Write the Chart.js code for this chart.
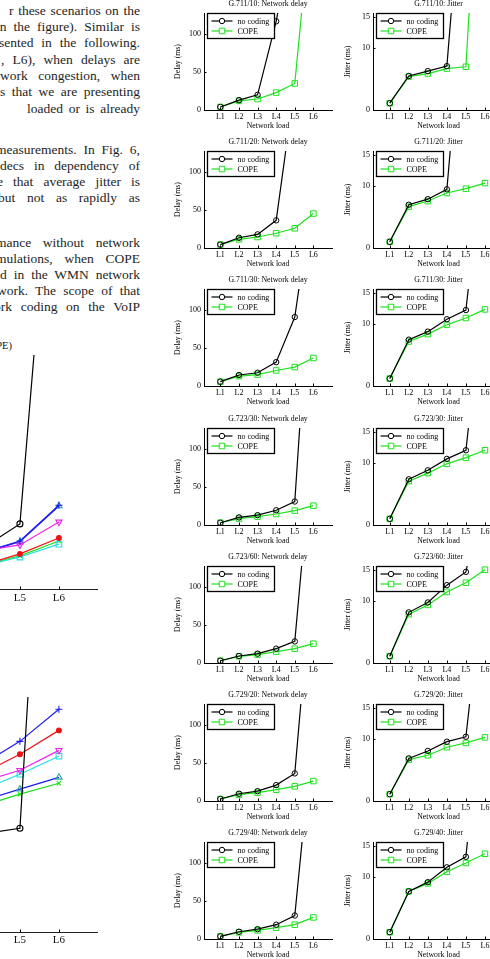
<!DOCTYPE html>
<html><head><meta charset="utf-8">
<script src="https://cdn.jsdelivr.net/npm/chart.js@4.4.1/dist/chart.umd.min.js"></script>
<style>
html,body{margin:0;padding:0;background:#fff;overflow:hidden;}
body{width:490px;height:959px;position:relative;}
.t{position:absolute;font-family:"Liberation Serif","Times New Roman",serif;font-size:13.5px;line-height:16px;height:16px;color:#1e1e1e;text-align:justify;text-align-last:justify;}
.ct{position:absolute;font-family:"Liberation Serif","Times New Roman",serif;font-size:10.5px;line-height:12px;color:#111;white-space:nowrap;text-align:right;}
canvas{position:absolute;}
</style>
</head>
<body>
<div class="t" style="top:3px;left:9px;width:131px">r these scenarios on the</div>
<div class="t" style="top:19px;left:-4px;width:144px">in the figure). Similar is</div>
<div class="t" style="top:35px;left:-1px;width:141px">sented in the following.</div>
<div class="t" style="top:52px;left:1px;width:139px">, L6), when delays are</div>
<div class="t" style="top:68px;left:0px;width:140px">work congestion, when</div>
<div class="t" style="top:84px;left:0px;width:140px">s that we are presenting</div>
<div class="t" style="top:101px;left:27px;width:113px">loaded or is already</div>
<div class="t" style="top:142px;left:-4px;width:144px">measurements. In Fig. 6,</div>
<div class="t" style="top:158px;left:0px;width:140px">decs in dependency of</div>
<div class="t" style="top:174px;left:-3px;width:143px">e that average jitter is</div>
<div class="t" style="top:190px;left:-2px;width:142px">but not as rapidly as</div>
<div class="t" style="top:235px;left:-4px;width:144px">mance without network</div>
<div class="t" style="top:251px;left:-4px;width:144px">mulations, when COPE</div>
<div class="t" style="top:267px;left:0px;width:140px">d in the WMN network</div>
<div class="t" style="top:283px;left:-3px;width:143px">work. The scope of that</div>
<div class="t" style="top:299px;left:-6px;width:146px">ork coding on the VoIP</div>
<div class="ct" style="top:340px;right:478px">Network delay (no coding and COPE)</div>
<script>
const FONT = '"Liberation Serif","Times New Roman",serif';
const GREEN = '#1de21d';

// ---------- categories / labels ----------
const categories = ['L1', 'L2', 'L3', 'L4', 'L5', 'L6'];
const seriesNames = ['no coding', 'COPE'];
const codecNames = ['G.711/10', 'G.711/20', 'G.711/30', 'G.723/30', 'G.723/60', 'G.729/20', 'G.729/40'];
const delayTickValues = [0, 50, 100];
const jitterTickValues = [0, 10, 15];

// ---------- network delay (ms) ----------
const delay711_10_nc   = [4, 13, 20, 117, 250, null];
const delay711_10_cope = [4, 12, 14.5, 23, 35, 290];
const delay711_20_nc   = [4.5, 13.5, 18, 36.5, 215, null];
const delay711_20_cope = [4.5, 11.5, 14.5, 19.5, 26, 45.5];
const delay711_30_nc   = [5.7, 14.5, 17.5, 31.5, 91, 260];
const delay711_30_cope = [5.7, 13, 15, 20.5, 25, 37];
const delay723_30_nc   = [3, 10, 13, 19.5, 31, 400];
const delay723_30_cope = [3, 8.5, 11, 14.5, 19, 25.5];
const delay723_60_nc   = [3, 9.2, 12.3, 18.9, 28.5, 300];
const delay723_60_cope = [3, 8.8, 11, 15, 18.9, 25.5];
const delay729_20_nc   = [2.6, 9.6, 13, 21, 36.4, 320];
const delay729_20_cope = [2.6, 8.3, 11, 14.9, 19.3, 26.3];
const delay729_40_nc   = [3.5, 9.6, 13, 18.9, 31, 280];
const delay729_40_cope = [3.5, 8.8, 11.4, 14.9, 18.9, 28.5];

// ---------- jitter (ms) ----------
const jitter711_10_nc   = [1.1, 5.5, 6.3, 7.1, 45, null];
const jitter711_10_cope = [1.1, 5.4, 5.9, 6.7, 7.0, 60];
const jitter711_20_nc   = [1.0, 7.0, 7.9, 9.5, 45, null];
const jitter711_20_cope = [1.0, 6.7, 7.6, 8.9, 9.6, 10.5];
const jitter711_30_nc   = [1.2, 7.5, 8.8, 10.8, 12.3, 40];
const jitter711_30_cope = [1.2, 7.2, 8.4, 9.9, 11.0, 12.4];
const jitter723_30_nc   = [1.0, 7.4, 8.85, 10.7, 12.1, 40];
const jitter723_30_cope = [1.0, 7.1, 8.4, 9.9, 10.9, 12.1];
const jitter723_60_nc   = [1.1, 8.2, 9.8, 12.6, 14.75, 30];
const jitter723_60_cope = [1.1, 7.9, 9.4, 11.5, 13.0, 15.1];
const jitter729_20_nc   = [1.1, 6.9, 8.1, 9.6, 10.4, 38];
const jitter729_20_cope = [1.1, 6.7, 7.4, 8.7, 9.4, 10.3];
const jitter729_40_nc   = [1.1, 7.7, 9.2, 11.6, 13.3, 45];
const jitter729_40_cope = [1.1, 7.7, 9.0, 10.9, 12.3, 13.8];

// ---------- left (partially visible) summary charts ----------
const leftSeriesNames = ['no coding', 'G.711/10', 'G.711/20', 'G.711/30', 'G.723/30', 'G.723/60', 'G.729/20'];
const topNoCoding = [2.5, 4.5, 7.0, 10.2, 16.7, 137];
const topSeriesB  = [2.0, 3.9, 6.3, 9.3, 12.3, 21.5];
const topSeriesR  = [1.5, 2.8, 4.3, 6.0, 9.0, 13.1];
const topSeriesM  = [2.0, 3.8, 6.2, 9.7, 11.3, 17.2];
const topSeriesC  = [1.4, 2.6, 4.1, 5.8, 8.2, 11.5];
const topSeriesT  = [2.0, 3.7, 6.0, 9.1, 12.1, 21.3];
const topSeriesG  = [1.4, 2.7, 4.2, 5.9, 8.5, 12.3];
const botNoCoding = [12, 18, 22, 25.0, 26.5, 190];
const botSeriesB  = [20, 28, 36, 42.6, 48.7, 56.9];
const botSeriesR  = [19, 27, 34, 40.3, 45.4, 51.5];
const botSeriesM  = [18, 26, 33, 38.3, 41.3, 46.4];
const botSeriesC  = [17, 25, 31, 36.2, 40.3, 44.9];
const botSeriesT  = [16, 23, 29, 33.4, 36.5, 39.5];
const botSeriesG  = [15, 22, 28, 32.1, 35.2, 38.0];

const delayRows = [
  [delay711_10_nc, delay711_10_cope], [delay711_20_nc, delay711_20_cope], [delay711_30_nc, delay711_30_cope],
  [delay723_30_nc, delay723_30_cope], [delay723_60_nc, delay723_60_cope], [delay729_20_nc, delay729_20_cope],
  [delay729_40_nc, delay729_40_cope]];
const jitterRows = [
  [jitter711_10_nc, jitter711_10_cope], [jitter711_20_nc, jitter711_20_cope], [jitter711_30_nc, jitter711_30_cope],
  [jitter723_30_nc, jitter723_30_cope], [jitter723_60_nc, jitter723_60_cope], [jitter729_20_nc, jitter729_20_cope],
  [jitter729_40_nc, jitter729_40_cope]];

function toXY(arr) { return categories.map((c, i) => ({x: i + 1, y: arr[i]})); }

// Chart.js keeps a 5px right inset in this layout; canvases are widened by it.
const RIGHT_INSET = 5;
function addCanvas(left, top, w, h) {
  const c = document.createElement('canvas');
  c.width = w; c.height = h;
  c.style.left = left + 'px'; c.style.top = top + 'px';
  c.style.width = w + 'px'; c.style.height = h + 'px';
  document.body.appendChild(c);
  return c;
}

const inwardTicks = {
  id: 'inwardTicks',
  afterDraw(chart) {
    const ctx = chart.ctx, xs = chart.scales.x, ys = chart.scales.y;
    ctx.save(); ctx.strokeStyle = '#000'; ctx.lineWidth = 1;
    xs.ticks.forEach(t => {
      const px = Math.round(xs.getPixelForValue(t.value)) + 0.5;
      ctx.beginPath(); ctx.moveTo(px, xs.top); ctx.lineTo(px, xs.top - 2.5); ctx.stroke();
    });
    if (ys.options.ticks.display) ys.ticks.forEach(t => {
      const py = Math.round(ys.getPixelForValue(t.value)) + 0.5;
      ctx.beginPath(); ctx.moveTo(ys.right, py); ctx.lineTo(ys.right + 2.5, py); ctx.stroke();
    });
    ctx.restore();
  }
};

const boxLegend = {
  id: 'boxLegend',
  afterDraw(chart) {
    const ctx = chart.ctx, ca = chart.chartArea;
    const x0 = Math.round(ca.left) + 3.5, y0 = Math.round(ca.top) + 0.5;
    ctx.save();
    ctx.font = '8px ' + FONT;
    const tw = Math.max(...chart.data.datasets.map(d => ctx.measureText(d.label).width));
    const w = Math.round(31 + tw + 4), h = 25;
    ctx.fillStyle = '#fff'; ctx.fillRect(x0, y0, w, h);
    ctx.strokeStyle = '#000'; ctx.lineWidth = 1.3; ctx.strokeRect(x0, y0, w, h);
    chart.data.datasets.forEach((d, i) => {
      const yy = y0 + 7.5 + i * 10;
      ctx.strokeStyle = d.borderColor; ctx.lineWidth = d.borderWidth;
      ctx.beginPath(); ctx.moveTo(x0 + 4, yy); ctx.lineTo(x0 + 25, yy); ctx.stroke();
      ctx.fillStyle = '#fff'; ctx.strokeStyle = d.pointBorderColor; ctx.lineWidth = 1;
      Chart.helpers.drawPoint(ctx, {pointStyle: d.pointStyle, radius: d.pointRadius, rotation: 0, borderWidth: 1}, x0 + 14.5, yy);
      ctx.fillStyle = '#000'; ctx.textBaseline = 'middle'; ctx.textAlign = 'left';
      ctx.fillText(d.label, x0 + 30, yy + 0.5);
    });
    ctx.restore();
  }
};

function smallChart(canvas, title, yTitle, tickVals, yMax, yAxisW, nc, cope) {
  const f = s => ({family: FONT, size: s, weight: 'normal', lineHeight: 1.2});
  return new Chart(canvas, {
    type: 'line',
    data: {datasets: [
      {label: seriesNames[0], data: toXY(nc), borderColor: '#000', borderWidth: 1.2, pointStyle: 'circle', pointRadius: 2.7,
       pointBorderColor: '#000', pointBackgroundColor: 'rgba(255,255,255,0)', pointBorderWidth: 1, tension: 0},
      {label: seriesNames[1], data: toXY(cope), borderColor: GREEN, borderWidth: 1.2, pointStyle: 'rect', pointRadius: 3.9,
       pointBorderColor: GREEN, pointBackgroundColor: 'rgba(255,255,255,0)', pointBorderWidth: 1, tension: 0}
    ]},
    options: {
      responsive: false, animation: false, devicePixelRatio: 1,
      layout: {padding: 0},
      plugins: {
        legend: {display: false}, tooltip: {enabled: false},
        title: {display: true, text: title, fullSize: false, color: '#000', font: f(7.8), padding: {top: 0, bottom: 4.64}}
      },
      scales: {
        x: {type: 'linear', min: 0.12, max: 7,
            afterBuildTicks: s => { s.ticks = categories.map((c, i) => ({value: i + 1})); },
            afterFit: s => { s.height = 21; },
            ticks: {callback: v => categories[Math.round(v) - 1], font: f(8), color: '#000', padding: 2, maxRotation: 0, autoSkip: false},
            grid: {display: true, drawOnChartArea: false, drawTicks: false},
            border: {display: true, color: '#000', width: 1},
            title: {display: true, text: 'Network load', color: '#000', font: f(7.8), padding: 0}},
        y: {type: 'linear', min: 0, max: yMax,
            afterBuildTicks: s => { s.ticks = tickVals.map(v => ({value: v})); },
            afterFit: s => { s.width = yAxisW; },
            ticks: {font: f(8), color: '#000', padding: 3},
            grid: {display: true, drawOnChartArea: false, drawTicks: false},
            border: {display: true, color: '#000', width: 1},
            title: {display: true, text: yTitle, color: '#000', font: f(7.8), padding: {top: 3, bottom: 0}}}
      }
    },
    plugins: [inwardTicks, boxLegend]
  });
}

for (let r = 0; r < 7; r++) {
  const zeroY = Math.round(110 + 138.2 * r);
  const top = zeroY - 97 - 14;
  const h = 14 + 97 + 21;
  const cd = addCanvas(170, top, 34 + 128 + RIGHT_INSET, h);
  smallChart(cd, codecNames[r] + ': Network delay', 'Delay (ms)', delayTickValues, 128, 34, delayRows[r][0], delayRows[r][1]);
  const cj = addCanvas(340, top, 33 + 131 + RIGHT_INSET, h);
  smallChart(cj, codecNames[r] + ': Jitter', 'Jitter (ms)', jitterTickValues, 15.7, 33, jitterRows[r][0], jitterRows[r][1]);
}

// ---------- left summary charts ----------
const leftStyles = [
  {borderColor: '#000', pointStyle: 'circle', pointRadius: 3, pointBorderColor: '#000', pointBackgroundColor: 'rgba(255,255,255,0)'},
  {borderColor: '#1a1aee', pointStyle: 'cross', pointRadius: 3.5, pointBorderColor: '#1a1aee', pointBackgroundColor: 'rgba(255,255,255,0)'},
  {borderColor: '#ee1111', pointStyle: 'circle', pointRadius: 2.4, pointBorderColor: '#ee1111', pointBackgroundColor: '#ee1111'},
  {borderColor: '#ee22ee', pointStyle: 'triangle', pointRotation: 180, pointRadius: 3.6, pointBorderColor: '#ee22ee', pointBackgroundColor: 'rgba(255,255,255,0)'},
  {borderColor: '#22dddd', pointStyle: 'rect', pointRadius: 4, pointBorderColor: '#22dddd', pointBackgroundColor: 'rgba(255,255,255,0)'},
  {borderColor: '#1a1aee', pointStyle: 'triangle', pointRadius: 3.6, pointBorderColor: '#22aa99', pointBackgroundColor: 'rgba(255,255,255,0)'},
  {borderColor: '#1ddd1d', pointStyle: 'crossRot', pointRadius: 3, pointBorderColor: '#1ddd1d', pointBackgroundColor: 'rgba(255,255,255,0)'}
];

function leftChart(canvas, series, xAxisH, tickPad) {
  return new Chart(canvas, {
    type: 'line',
    data: {datasets: series.map((arr, i) => Object.assign({label: leftSeriesNames[i], data: toXY(arr), borderWidth: 1.2, pointBorderWidth: 1.1, tension: 0}, leftStyles[i]))},
    options: {
      responsive: false, animation: false, devicePixelRatio: 1,
      layout: {padding: {top: 5, right: 0, left: 0, bottom: 0}},
      plugins: {legend: {display: false}, tooltip: {enabled: false}, title: {display: false}},
      scales: {
        x: {type: 'linear', min: 0, max: 7,
            afterBuildTicks: s => { s.ticks = categories.map((c, i) => ({value: i + 1})); },
            afterFit: s => { s.height = xAxisH; },
            ticks: {callback: v => categories[Math.round(v) - 1], font: {family: FONT, size: 11}, color: '#111', padding: tickPad, maxRotation: 0, autoSkip: false},
            grid: {display: true, drawOnChartArea: false, drawTicks: false},
            border: {display: true, color: '#222', width: 1}},
        y: {type: 'linear', min: 0, max: 60,
            afterFit: s => { s.width = 40; },
            ticks: {display: false},
            grid: {display: true, drawOnChartArea: false, drawTicks: false},
            border: {display: true, color: '#222', width: 1}}
      }
    },
    plugins: [inwardTicks]
  });
}

leftChart(addCanvas(-215, 350, 313 + RIGHT_INSET, 269),
  [topNoCoding, topSeriesB, topSeriesR, topSeriesM, topSeriesC, topSeriesT, topSeriesG], 30, 2.5);
leftChart(addCanvas(-215, 692, 313 + RIGHT_INSET, 267),
  [botNoCoding, botSeriesB, botSeriesR, botSeriesM, botSeriesC, botSeriesT, botSeriesG], 27, 1.5);
</script>
</body></html>
